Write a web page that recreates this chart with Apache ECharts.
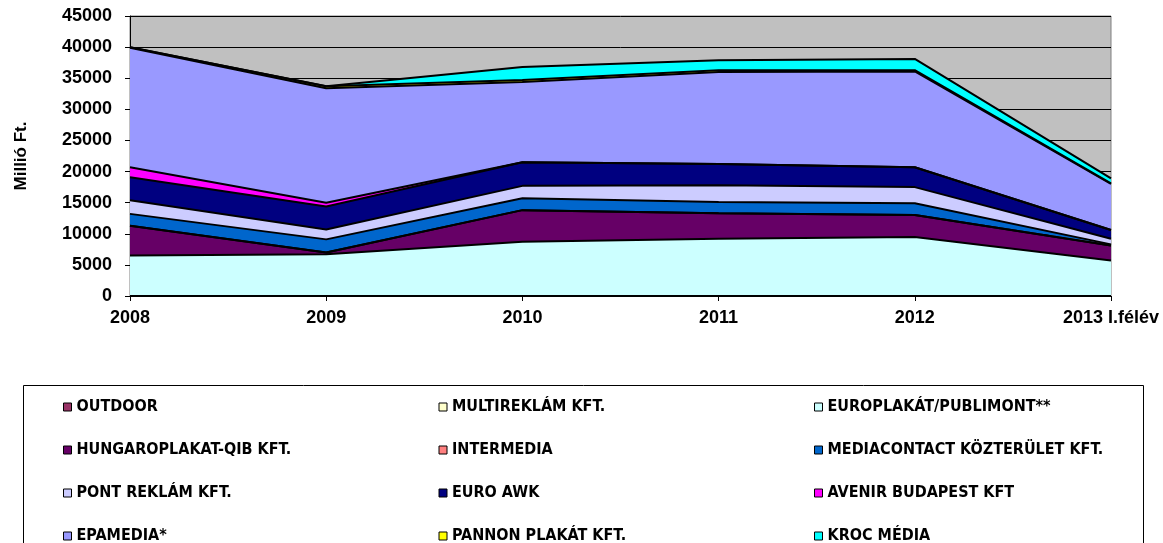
<!DOCTYPE html>
<html>
<head>
<meta charset="utf-8">
<script src="https://cdn.jsdelivr.net/npm/echarts@6/dist/echarts.min.js"></script>
<style>
html,body{margin:0;padding:0;background:#fff;}
#chart{width:1163px;height:543px;}
</style>
</head>
<body>
<div id="chart"></div>
<script>
// years on the x axis
var years = ['2008', '2009', '2010', '2011', '2012', '2013 I.félév'];

// values per company (millió Ft), stacked in this order
var outdoor       = [0, 0, 0, 0, 0, 0];
var multireklam   = [0, 0, 0, 0, 0, 0];
var europlakat    = [6500, 6700, 8700, 9200, 9500, 5700];
var hungaroplakat = [4800, 300, 5100, 4100, 3500, 2400];
var intermedia    = [0, 0, 0, 0, 0, 0];
var mediacontact  = [1900, 2100, 1900, 1800, 1900, 200];
var pontReklam    = [2200, 1600, 2000, 2700, 2600, 900];
var euroAwk       = [3700, 3700, 3800, 3400, 3200, 1400];
var avenir        = [1600, 600, 0, 0, 0, 0];
var epamedia      = [19200, 18400, 12900, 14800, 15400, 7400];
var pannon        = [100, 300, 300, 300, 200, 100];
var kroc          = [0, 0, 2100, 1600, 1800, 800];

var names = ['OUTDOOR', 'MULTIREKLÁM KFT.', 'EUROPLAKÁT/PUBLIMONT**',
  'HUNGAROPLAKAT-QIB KFT.', 'INTERMEDIA', 'MEDIACONTACT KÖZTERÜLET KFT.',
  'PONT REKLÁM KFT.', 'EURO AWK', 'AVENIR BUDAPEST KFT',
  'EPAMEDIA*', 'PANNON PLAKÁT KFT.', 'KROC MÉDIA'];
var colors = ['#993366', '#FFFFCC', '#CCFFFF', '#660066', '#FF8080', '#0066CC',
  '#CCCCFF', '#000080', '#FF00FF', '#9999FF', '#FFFF00', '#00FFFF'];
var values = [outdoor, multireklam, europlakat, hungaroplakat, intermedia, mediacontact,
  pontReklam, euroAwk, avenir, epamedia, pannon, kroc];

var font = "'Liberation Sans', Arial, sans-serif";
var legendFont = "'Liberation Sans Narrow', 'Arial Narrow', 'DejaVu Sans Condensed', sans-serif";

var series = [];
for (var i = 0; i < names.length; i++) {
  series.push({
    name: names[i],
    type: 'line',
    stack: 'total',
    data: values[i],
    symbol: 'none',
    itemStyle: { color: colors[i] },
    lineStyle: { color: '#000', width: 2 },
    areaStyle: { color: colors[i], opacity: 1 },
    emphasis: { disabled: true }
  });
}

// one legend per row; first two items get a fixed text width so the columns line up
function legendRow(top, a, b, c) {
  return {
    orient: 'horizontal',
    left: 63,
    top: top,
    data: [
      { name: a, textStyle: { width: 362 } },
      { name: b, textStyle: { width: 362 } },
      { name: c }
    ],
    icon: 'rect',
    itemWidth: 8,
    itemHeight: 8,
    itemGap: 0,
    padding: 0,
    selectedMode: false,
    itemStyle: { borderColor: '#000', borderWidth: 1 },
    textStyle: { fontFamily: legendFont, fontWeight: 'bold', fontSize: 16, color: '#000', lineHeight: 14 }
  };
}

var myChart = echarts.init(document.getElementById('chart'));
myChart.setOption({
  animation: false,
  backgroundColor: '#fff',
  grid: { left: 130, right: 52, top: 16, bottom: 247, show: true, backgroundColor: '#C0C0C0', borderColor: '#808080', borderWidth: 1 },
  xAxis: {
    type: 'category',
    boundaryGap: false,
    data: years,
    axisLine: { lineStyle: { color: '#000', width: 1 } },
    axisTick: { show: true, length: 5, lineStyle: { color: '#000' } },
    axisLabel: { color: '#000', fontFamily: font, fontWeight: 'bold', fontSize: 18, margin: 13 }
  },
  yAxis: {
    type: 'value',
    min: 0,
    max: 45000,
    interval: 5000,
    name: 'Millió Ft.',
    nameLocation: 'middle',
    nameGap: 100,
    nameTextStyle: { color: '#000', fontFamily: font, fontWeight: 'bold', fontSize: 17 },
    axisLine: { show: true, lineStyle: { color: '#000', width: 1 } },
    axisTick: { show: true, length: 5, lineStyle: { color: '#000' } },
    axisLabel: { color: '#000', fontFamily: font, fontWeight: 'bold', fontSize: 18, margin: 18,
      formatter: function (v) { return v; } },
    splitLine: { show: true, lineStyle: { color: '#000', width: 1 } }
  },
  legend: [
    legendRow(399, names[0], names[1], names[2]),
    legendRow(442, names[3], names[4], names[5]),
    legendRow(485, names[6], names[7], names[8]),
    legendRow(528, names[9], names[10], names[11])
  ],
  graphic: [{
    type: 'rect',
    shape: { x: 23.5, y: 385.5, width: 1120, height: 170 },
    style: { fill: 'none', stroke: '#000', lineWidth: 1 },
    silent: true
  }],
  series: series
});
</script>
</body>
</html>
